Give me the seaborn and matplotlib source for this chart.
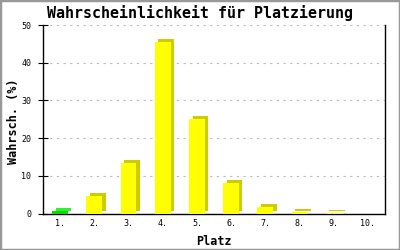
import matplotlib
matplotlib.use("Agg")
import matplotlib.pyplot as plt
import matplotlib.patches as mpatches
from matplotlib.transforms import ScaledTranslation
import seaborn as sns
import pandas as pd

# ---- data ----
places = ["1.", "2.", "3.", "4.", "5.", "6.", "7.", "8.", "9.", "10."]
probs = [0.8, 4.7, 13.5, 45.4, 25.2, 8.2, 1.8, 0.5, 0.1, 0.0]
front_colors = ["#00dd00"] + ["#ffff00"] * 9
side_colors = ["#33ee33"] + ["#cccc00"] * 9
y_ticks = [0, 10, 20, 30, 40, 50]
title = "Wahrscheinlichkeit für Platzierung"
xlabel = "Platz"
ylabel = "Wahrsch. (%)"

sns.set_theme(style="white")
mono = ["DejaVu Sans Mono"]
plt.rcParams["font.family"] = mono

df = pd.DataFrame({"place": places, "prob": probs})

fig = plt.figure(figsize=(4, 2.5), dpi=100)
ax = fig.add_axes([0.1075, 0.1456, 0.855, 0.7544])

sns.barplot(data=df, x="place", y="prob", hue="place",
            palette=front_colors, legend=False, width=0.46,
            saturation=1, ax=ax, zorder=3, linewidth=0)

# 3D depth: offset darker copies of each bar drawn behind
off = ScaledTranslation(3.5 / 100, 3 / 100, fig.dpi_scale_trans)
for patch, sc in zip(list(ax.patches), side_colors):
    h = patch.get_height()
    if h <= 0:
        continue
    r = mpatches.Rectangle((patch.get_x(), patch.get_y()), patch.get_width(), h,
                           transform=ax.transData + off, facecolor=sc,
                           edgecolor="none", zorder=2)
    ax.add_patch(r)

ax.set_ylim(0, 50)
ax.set_xlim(-0.5, 9.5)
ax.set_yticks(y_ticks)
ax.set_yticklabels([str(t) for t in y_ticks])

ax.yaxis.grid(True, color="#bbbbbb", linestyle=(0, (2, 4)), linewidth=0.8, zorder=0)
ax.xaxis.grid(False)
ax.set_axisbelow(True)

for s in ["left", "bottom", "right"]:
    ax.spines[s].set_visible(True)
    ax.spines[s].set_color("black")
    ax.spines[s].set_linewidth(1.0)
ax.spines["top"].set_visible(False)

ax.tick_params(axis="y", direction="inout", length=7, width=0.8, colors="black",
               labelsize=6, pad=5, left=True)
ax.tick_params(axis="x", length=0, labelsize=6, pad=4, colors="black")

ax.set_xlabel(xlabel, fontsize=8.5, fontweight="bold", color="black")
ax.set_ylabel(ylabel, fontsize=8.5, fontweight="bold", color="black")
ax.xaxis.set_label_coords(0.5, -0.115)
ax.yaxis.set_label_coords(-0.068, 0.49)

fig.text(0.5, 0.948, title, ha="center", va="center", fontsize=10.8,
         fontweight="bold", color="black")

fig.patches.append(mpatches.Rectangle((0, 0), 1, 1, transform=fig.transFigure,
                                      fill=False, edgecolor="#999999", linewidth=2.5))

fig.savefig("out.png", dpi=100, facecolor="white")
